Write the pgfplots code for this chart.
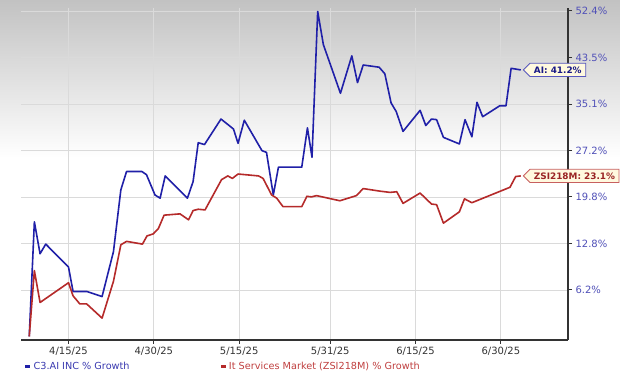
\documentclass[border=0pt]{standalone}
\usepackage{pgfplots}
\pgfplotsset{compat=1.18}
\usepackage{fontspec}
\setmainfont{DejaVu Sans}
\usetikzlibrary{shapes.symbols}
\definecolor{aiblue}{HTML}{2020A8}
\definecolor{zred}{HTML}{B52A2A}
\definecolor{ticklab}{HTML}{5050B8}
\definecolor{gridc}{HTML}{DADADA}
\definecolor{axisc}{HTML}{333333}
\definecolor{bgtop}{HTML}{C2C2C2}
\definecolor{lblfill}{HTML}{FFF9DF}
\definecolor{legblue}{HTML}{3A3AB0}
\definecolor{legred}{HTML}{C04040}
\begin{document}
\begin{tikzpicture}[x=1pt,y=1pt]
\path[use as bounding box] (0,0) rectangle (620,373);
\fill[white] (0,0) rectangle (620,373);
\shade[top color=bgtop, bottom color=white] (0,215) rectangle (620,373);
\begin{axis}[
  at={(21pt,33pt)}, anchor=south west,
  scale only axis, width=547pt, height=332pt,
  clip mode=individual,
  ymode=log,
  xmin=96.65, xmax=192.8, ymin=99.55, ymax=153.0,
  axis x line*=bottom, axis y line*=right,
  axis line style={-, axisc, line width=1.6pt},
  xtick={105,120,135,151,166,181},
  xticklabels={4/15/25,4/30/25,5/15/25,5/31/25,6/15/25,6/30/25},
  ytick={106.2,112.8,119.8,127.2,135.1,143.5,152.4},
  yticklabels={6.2\%,12.8\%,19.8\%,27.2\%,35.1\%,43.5\%,52.4\%},
  yminorticks=false, xminorticks=false,
  grid=major, major grid style={gridc, line width=0.8pt},
  tick align=outside, major tick length=4pt,
  tick style={axisc, line width=1pt},
  /pgf/number format/assume math mode=true,
  yticklabel style={font=\fontsize{10}{12}\selectfont, text=ticklab},
  xticklabel style={font=\fontsize{10}{12}\selectfont, text=axisc},
  legend columns=2,
  legend style={at={(0.0,-0.08)}, anchor=west, draw=none, fill=none,
    font=\fontsize{9.7}{11}\selectfont,
    /tikz/every even column/.append style={column sep=88pt}},
  legend image code/.code={\draw[#1, line width=2.4pt] (0pt,0pt) -- (5pt,0pt);},
]
\addplot[aiblue, line width=1.6pt, line join=round] coordinates {
(98.1,100.0) (99.0,116.0) (100.0,111.3) (101.0,112.7) (105.0,109.4)
(105.8,106.0) (108.2,106.0) (110.9,105.3) (112.9,111.6) (114.2,120.9)
(115.2,123.8) (117.9,123.8) (118.7,123.3) (120.2,120.1) (121.1,119.6)
(122.0,123.1) (125.9,119.6) (126.9,122.2) (127.8,128.5) (128.9,128.2)
(131.8,132.5) (133.1,131.5) (134.0,130.8) (134.8,128.4) (135.9,132.3)
(139.0,127.2) (139.8,126.9) (141.0,120.1) (141.9,124.5) (146.0,124.5)
(147.0,131.0) (147.8,126.1) (148.8,152.3) (149.8,145.9) (152.8,137.0)
(154.8,143.8) (155.8,138.9) (156.8,142.1) (159.6,141.7) (160.6,140.5)
(161.7,135.3) (162.6,133.8) (163.8,130.4) (166.8,134.0) (167.8,131.4)
(168.8,132.5) (169.7,132.4) (170.9,129.4) (173.7,128.3) (174.7,132.4)
(175.9,129.5) (176.8,135.4) (177.8,132.9) (180.8,134.8) (181.9,134.8)
(182.8,141.5) (184.5,141.2)
};
\addlegendentry{\textcolor{legblue}{C3.AI INC \% Growth}}
\addplot[zred, line width=1.6pt, line join=round] coordinates {
(98.1,100.0) (99.0,108.9) (100.0,104.5) (105.0,107.2) (105.8,105.4)
(107.0,104.3) (108.2,104.3) (110.9,102.4) (112.9,107.4) (114.2,112.6)
(115.2,113.1) (118.0,112.7) (118.8,113.9) (119.9,114.2) (120.8,115.0)
(121.8,117.0) (124.6,117.2) (126.1,116.3) (126.9,117.7) (127.8,117.9)
(129.0,117.8) (131.9,122.5) (133.0,123.1) (133.8,122.7) (134.8,123.4)
(138.4,123.1) (139.2,122.7) (140.7,120.1) (141.6,119.6) (142.7,118.3)
(146.0,118.3) (146.9,119.9) (147.7,119.8) (148.6,120.0) (152.7,119.2)
(155.6,120.0) (156.8,121.1) (159.7,120.7) (161.5,120.5) (162.7,120.6)
(163.8,118.8) (166.8,120.4) (168.8,118.7) (169.7,118.6) (170.9,115.8)
(173.7,117.5) (174.6,119.5) (175.9,118.9) (182.6,121.3) (183.6,123.0)
(184.5,123.1)
};
\addlegendentry{\textcolor{legred}{It Services Market (ZSI218M) \% Growth}}
\node[signal, signal to=west, draw=aiblue!75, fill=lblfill, text=aiblue!80!black,
  font=\bfseries\fontsize{8.9}{10}\selectfont, inner xsep=4pt, inner ysep=3.2pt, line width=0.8pt,
  anchor=west, xshift=2pt] at (axis cs:184.5,141.2) {AI: 41.2\%};
\node[signal, signal to=west, draw=zred!75, fill=lblfill, text=zred!85!black,
  font=\bfseries\fontsize{8.9}{10}\selectfont, inner xsep=4pt, inner ysep=3.2pt, line width=0.8pt,
  anchor=west, xshift=2pt] at (axis cs:184.5,123.1) {ZSI218M: 23.1\%};
\end{axis}
\end{tikzpicture}
\end{document}
